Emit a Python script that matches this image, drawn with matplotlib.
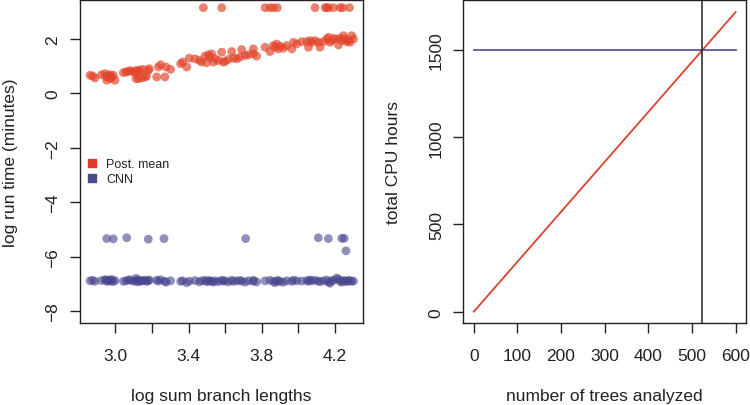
import matplotlib
matplotlib.use("Agg")
import matplotlib.pyplot as plt
from matplotlib.lines import Line2D

plt.rcParams['font.family'] = ['Liberation Sans', 'DejaVu Sans']

# ---------------- data: left panel ----------------
post_x = [2.862, 2.876, 2.889, 2.925, 2.944, 2.953, 2.962, 2.971, 2.980, 2.989, 2.998, 2.974, 2.953,
          3.044, 3.058, 3.071, 3.080, 3.095, 3.107, 3.117, 3.126, 3.135, 3.113, 3.126, 3.144, 3.162,
          3.171, 3.180, 3.186, 3.153, 3.226, 3.235, 3.248, 3.271, 3.277, 3.302,
          3.357, 3.368, 3.390, 3.404, 3.435, 3.459, 3.472, 3.490, 3.499, 3.508, 3.517, 3.526, 3.536,
          3.545, 3.563, 3.581, 3.590, 3.599, 3.617, 3.636, 3.645, 3.663, 3.681, 3.690, 3.709, 3.727,
          3.754, 3.754, 3.772, 3.818, 3.845, 3.863, 3.872, 3.882, 3.891, 3.900, 3.918, 3.936, 3.964,
          3.973, 3.991, 4.018, 4.046, 4.064, 4.055, 4.073, 4.091, 4.109, 4.118, 4.137, 4.155, 4.164,
          4.173, 4.182, 4.191, 4.209, 4.219, 4.228, 4.237, 4.246, 4.255, 4.264, 4.273, 4.282, 4.291, 4.301]
post_y = [0.667, 0.642, 0.570, 0.691, 0.727, 0.485, 0.642, 0.691, 0.606, 0.667, 0.485, 0.545, 0.606,
          0.764, 0.788, 0.812, 0.836, 0.812, 0.764, 0.848, 0.812, 0.861, 0.545, 0.545, 0.570, 0.594,
          0.642, 0.848, 0.909, 0.885, 0.606, 0.970, 1.055, 0.606, 0.970, 0.885,
          1.091, 1.152, 0.970, 1.297, 1.273, 1.212, 1.152, 1.370, 1.127, 1.418, 1.333, 1.455, 1.152,
          1.273, 1.212, 1.515, 1.152, 1.176, 1.248, 1.539, 1.297, 1.273, 1.333, 1.612, 1.394, 1.418,
          1.636, 1.455, 1.370, 1.697, 1.539, 1.758, 1.697, 1.818, 1.636, 1.733, 1.661, 1.758, 1.636,
          1.879, 1.818, 1.903, 1.903, 1.939, 1.697, 1.879, 1.939, 1.879, 1.697, 1.903, 2.000, 2.061,
          1.879, 1.939, 2.024, 2.000, 1.782, 2.024, 1.939, 2.121, 2.000, 1.903, 1.939, 1.879, 2.121, 2.000]
post_out_x = [3.481, 3.581, 3.818, 3.845, 3.863, 3.885, 4.091, 4.146, 4.155, 4.164, 4.191, 4.228, 4.242, 4.279]
post_out_y = [3.15, 3.15, 3.15, 3.15, 3.15, 3.15, 3.15, 3.15, 3.15, 3.15, 3.15, 3.15, 3.15, 3.15]

cnn_y = [-6.88, -6.86, -6.90, -6.87, -6.84, -6.90, -6.88, -6.86, -6.83, -6.91, -6.87, -6.89, -6.85,
         -6.90, -6.88, -6.86, -6.84, -6.88, -6.90, -6.87, -6.85, -6.89, -6.79, -6.92, -6.88, -6.86,
         -6.90, -6.88, -6.85, -6.87, -6.86, -6.89, -6.84, -6.90, -6.93, -6.88,
         -6.90, -6.88, -6.95, -6.89, -6.87, -6.92, -6.88, -6.86, -6.91, -6.89, -6.87, -6.90, -6.93,
         -6.88, -6.91, -6.86, -6.89, -6.88, -6.92, -6.86, -6.90, -6.88, -6.87, -6.89, -6.93, -6.88,
         -6.86, -6.90, -6.92, -6.88, -6.86, -6.90, -6.95, -6.88, -6.87, -6.91, -6.93, -6.88, -6.90,
         -6.86, -6.88, -6.89, -6.87, -6.85, -6.90, -6.88, -6.86, -6.89, -6.91, -6.88, -6.85, -6.93,
         -6.97, -6.88, -6.86, -6.78, -6.82, -6.90, -6.93, -6.87, -6.89, -6.91, -6.86, -6.88, -6.90, -6.89]
cnn_out_x = [2.953, 2.989, 3.062, 3.180, 3.266, 3.712, 4.109, 4.164, 4.237, 4.250, 4.260]
cnn_out_y = [-5.33, -5.34, -5.30, -5.35, -5.33, -5.33, -5.30, -5.33, -5.32, -5.32, -5.78]

# ---------------- data: right panel ----------------
trees = [0, 600]
post_hours = [0, 1717]
cnn_hours = [1500, 1500]
breakeven = 524

red_pt = '#E2452B'
blue_pt = '#48468F'
red_line = '#D8442E'
blue_line = '#5A589C'

fig = plt.figure(figsize=(7.5, 4.06), dpi=100)
ax1 = fig.add_axes([80 / 750, 1 - 324 / 406, 283 / 750, 323 / 406])
ax2 = fig.add_axes([463.3 / 750, 1 - 324 / 406, 282.7 / 750, 323 / 406])

FS = 12.5

def style(ax):
    for s in ax.spines.values():
        s.set_linewidth(1.0)
        s.set_color('#222222')
    ax.tick_params(direction='out', length=7, width=1.0, color='#222222',
                   labelsize=FS, labelcolor='#222222')
    ax.tick_params(axis='x', pad=11)
    ax.tick_params(axis='y', pad=7)

# left panel
ax1.scatter(post_x + post_out_x, post_y + post_out_y, s=40, color=red_pt, alpha=0.68,
            edgecolors='none', zorder=3)
ax1.scatter(post_x + cnn_out_x, cnn_y + cnn_out_y, s=40, color=blue_pt, alpha=0.6,
            edgecolors='none', zorder=3)
ax1.set_xlim(2.807, 4.353)
ax1.set_ylim(-8.43, 3.432)
xt = [3.0, 3.2, 3.4, 3.6, 3.8, 4.0, 4.2]
ax1.set_xticks(xt)
ax1.set_xticklabels(['3.0', '', '3.4', '', '3.8', '', '4.2'])
yt = [-8, -6, -4, -2, 0, 2]
ax1.set_yticks(yt)
ax1.set_yticklabels(['\u22128', '\u22126', '\u22124', '\u22122', '0', '2'], rotation=90, va='center')
style(ax1)
ax1.text(0.5, (324 - 397) / 323, 'log sum branch lengths', transform=ax1.transAxes,
         ha='center', va='center', fontsize=FS, color='#222222')
ax1.text((11 - 80) / 283, 0.5, 'log run time (minutes)', transform=ax1.transAxes,
         ha='center', va='center', rotation=90, fontsize=FS, color='#222222')
handles = [Line2D([], [], marker='s', linestyle='none', color='#E03A2A', markersize=6),
           Line2D([], [], marker='s', linestyle='none', color='#4A4A8A', markersize=6)]
ax1.legend(handles, ['Post. mean', 'CNN'], loc='upper left', bbox_to_anchor=(-0.018, 0.545),
           frameon=False, fontsize=9, handlelength=1.0, handletextpad=0.6, labelspacing=0.25,
           labelcolor='#222222')

# right panel
ax2.plot(trees, post_hours, color=red_line, lw=1.3)
ax2.plot(trees, cnn_hours, color=blue_line, lw=1.3)
ax2.axvline(breakeven, color='#222222', lw=1.1)
ax2.set_xlim(-24, 624)
ax2.set_ylim(-64.8, 1786.6)
ax2.set_xticks([0, 100, 200, 300, 400, 500, 600])
ax2.set_yticks([0, 500, 1000, 1500])
ax2.set_yticklabels(['0', '500', '1000', '1500'], rotation=90, va='center')
style(ax2)
ax2.text(0.5, (324 - 397) / 323, 'number of trees analyzed', transform=ax2.transAxes,
         ha='center', va='center', fontsize=FS, color='#222222')
ax2.text((393 - 463.3) / 282.7, 0.5, 'total CPU hours', transform=ax2.transAxes,
         ha='center', va='center', rotation=90, fontsize=FS, color='#222222')

fig.savefig('out.png', dpi=100)
